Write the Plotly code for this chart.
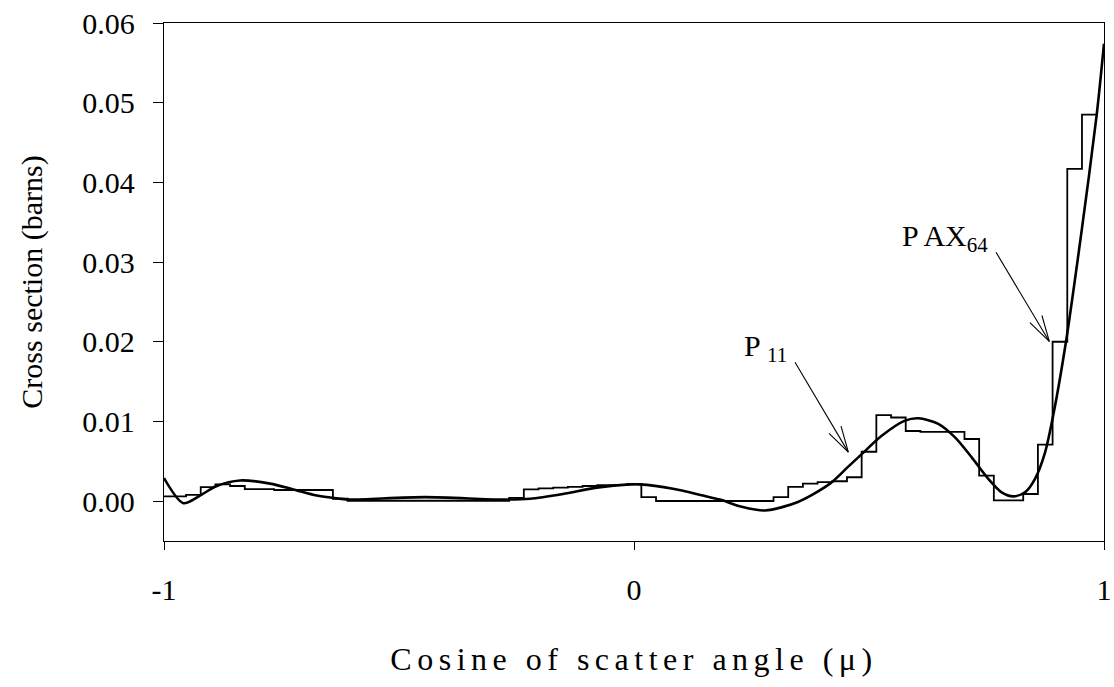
import math
import plotly.graph_objects as go

# ---- data ----
# histogram (PAX_64): values of 64 bins; bin j is centred at mu = -1 + j/32
hist_values = [
    0.0006, 0.0006, 0.0008, 0.00175, 0.0021, 0.0019, 0.0015, 0.0015,
    0.0014, 0.0014, 0.0014, 0.0014, 0.0003, 0.00005, 0.00005, 0.00005,
    0.00005, 0.00005, 0.00005, 0.00005, 0.00005, 0.00005, 0.00005, 0.00005,
    0.0004, 0.00147, 0.0016, 0.0017, 0.0018, 0.0019, 0.0020, 0.0020,
    0.0021, 0.0005, 0.00002, 0.00002, 0.00002, 0.00002, 0.00002, 0.00002,
    0.00002, 0.00002, 0.0005, 0.0018, 0.0022, 0.0024, 0.0025, 0.0030,
    0.0062, 0.0108, 0.0105, 0.0088, 0.0087, 0.0087, 0.0087, 0.0078,
    0.0032, 0.0001, 0.0001, 0.0009, 0.0071, 0.0200, 0.0417, 0.0485,
]
N_BINS = 64

# smooth P11 curve
curve_mu = [-1.0, -0.959, -0.9234, -0.888, -0.8383, -0.7745, -0.7249, -0.6751,
            -0.6255, -0.6043, -0.4447, -0.2809, -0.2213, -0.1511, -0.0794,
            -0.0085, 0.0128, 0.083, 0.1468, 0.183, 0.2291, 0.2787, 0.3489,
            0.417, 0.4553, 0.4845, 0.527, 0.5766, 0.6049, 0.6474, 0.683,
            0.7185, 0.7538, 0.7823, 0.807, 0.8319, 0.8532, 0.8745, 0.8921,
            0.9191, 0.9526, 0.9845, 1.0]
curve_xs = [0.0029, -0.00025, 0.0007, 0.0019, 0.0026, 0.0022, 0.00147, 0.0007,
            0.0003, 0.0002, 0.0005, 0.0002, 0.0003, 0.0009, 0.0017,
            0.0021, 0.0021, 0.00155, 0.0007, 0.0002, -0.0007, -0.00117, -0.0001,
            0.0022, 0.0043, 0.0059, 0.0082, 0.0101, 0.0104, 0.0097, 0.008,
            0.0055, 0.0028, 0.0011, 0.0006, 0.0011, 0.0028, 0.0061, 0.0108,
            0.0200, 0.0340, 0.0485, 0.0574]

y_tickvals = [0.0, 0.01, 0.02, 0.03, 0.04, 0.05, 0.06]
y_ticktext = ["0.00", "0.01", "0.02", "0.03", "0.04", "0.05", "0.06"]
x_tickvals = [-1, 0, 1]
x_ticktext = ["-1", "0", "1"]

X_RANGE = [-1, 1]
Y_RANGE = [-0.005, 0.06]

# annotation arrows: (tail, tip) in data units
arrows = [
    ((0.3426, 0.01744), (0.456, 0.00615)),
    ((0.7702, 0.03124), (0.8836, 0.02004)),
]

# ---- build step outline ----
w = 2.0 / N_BINS
edges = [-1.0] + [-1.0 + (j + 0.5) * w for j in range(N_BINS)]
step_x = edges
step_y = hist_values + [hist_values[-1]]

FONT = "Liberation Serif, Times New Roman, serif"
W, H = 1114, 687
M = dict(l=164, r=10, t=23, b=146)
PW = W - M["l"] - M["r"]
PH = H - M["t"] - M["b"]
sx = PW / (X_RANGE[1] - X_RANGE[0])
sy = PH / (Y_RANGE[1] - Y_RANGE[0])

fig = go.Figure()
fig.add_trace(go.Scatter(x=step_x, y=step_y, mode="lines",
                         line=dict(shape="hv", color="black", width=1.8),
                         showlegend=False, hoverinfo="skip"))
fig.add_trace(go.Scatter(x=curve_mu, y=curve_xs, mode="lines",
                         line=dict(shape="spline", smoothing=0.8, color="black", width=2.6),
                         showlegend=False, hoverinfo="skip"))

# arrows with open V heads
BARB = 27.0
ANG = math.radians(15)
for (tx, ty), (hx, hy) in arrows:
    fig.add_shape(type="line", x0=tx, y0=ty, x1=hx, y1=hy, xref="x", yref="y",
                  line=dict(color="black", width=1.1))
    dxp = (tx - hx) * sx
    dyp = (ty - hy) * sy
    n = math.hypot(dxp, dyp)
    ux, uy = dxp / n, dyp / n
    for s in (1, -1):
        c, si = math.cos(s * ANG), math.sin(s * ANG)
        bx = ux * c - uy * si
        by = ux * si + uy * c
        fig.add_shape(type="line", x0=hx, y0=hy,
                      x1=hx + BARB * bx / sx, y1=hy + BARB * by / sy,
                      xref="x", yref="y", line=dict(color="black", width=1.1))

fig.add_annotation(x=0.28, y=0.0192, xref="x", yref="y", showarrow=False,
                   text="P <sub>11</sub>", font=dict(family=FONT, size=30, color="black"))
fig.add_annotation(x=0.662, y=0.0330, xref="x", yref="y", showarrow=False,
                   text="P AX<sub>64</sub>", font=dict(family=FONT, size=30, color="black"))

fig.update_layout(
    width=W, height=H,
    margin=M,
    paper_bgcolor="white", plot_bgcolor="white",
    font=dict(family=FONT, size=30, color="black"),
    xaxis=dict(range=X_RANGE, tickvals=x_tickvals, ticktext=x_ticktext,
               ticks="outside", ticklen=8, tickwidth=1.3, tickcolor="black",
               showline=True, linecolor="black", linewidth=1.3, mirror=True,
               showgrid=False, zeroline=False, automargin=False,
               ticklabelstandoff=14,
               title=dict(text='<span style="letter-spacing:5.5px">Cosine of scatter angle (μ)</span>',
                          standoff=42,
                          font=dict(family=FONT, size=32))),
    yaxis=dict(range=Y_RANGE, tickvals=y_tickvals, ticktext=y_ticktext,
               ticks="outside", ticklen=10, tickwidth=1.3, tickcolor="black",
               showline=True, linecolor="black", linewidth=1.3, mirror=True,
               showgrid=False, zeroline=False, automargin=False,
               ticklabelstandoff=12,
               title=dict(text="Cross section (barns)", standoff=30,
                          font=dict(family=FONT, size=30))),
)

fig.write_html("out.html")
